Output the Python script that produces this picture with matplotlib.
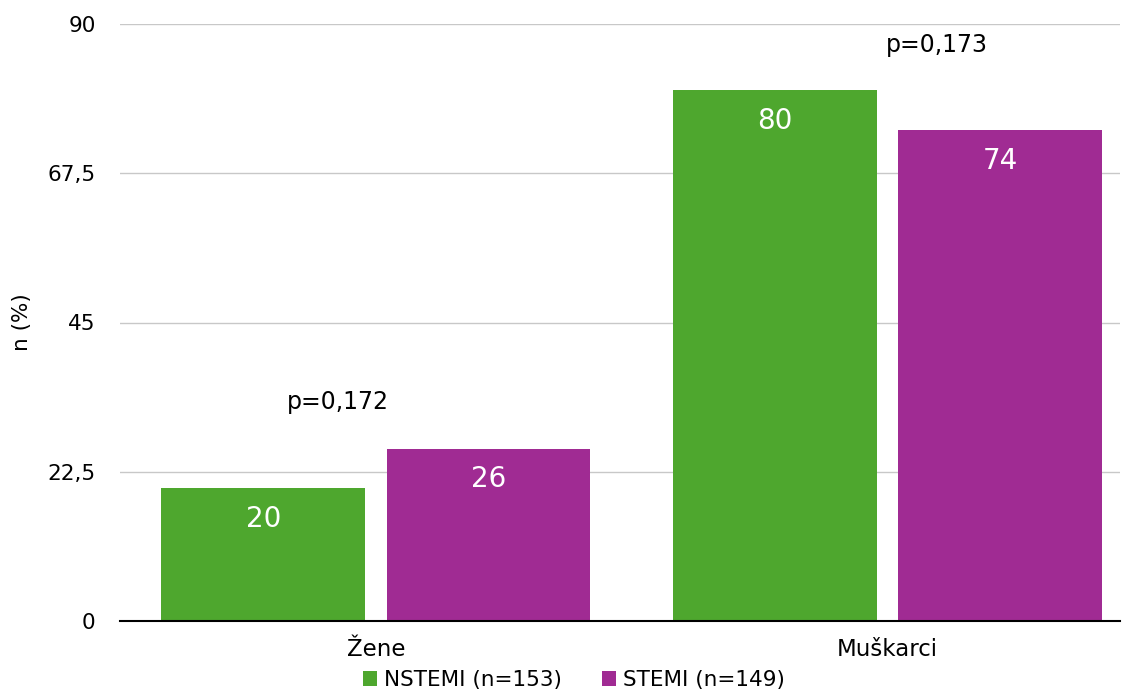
import matplotlib.pyplot as plt
import numpy as np

plt.rcParams['font.family'] = ['DejaVu Sans']

categories = ["Žene", "Muškarci"]
nstemi = [20, 80]
stemi = [26, 74]
series_names = ["NSTEMI (n=153)", "STEMI (n=149)"]
p_values = ["p=0,172", "p=0,173"]
yticks = [0, 22.5, 45, 67.5, 90]
ytick_labels = ["0", "22,5", "45", "67,5", "90"]

green = "#4EA72E"
purple = "#A02B93"

fig = plt.figure(figsize=(11.31, 6.92), dpi=100)
ax = fig.add_axes([120 / 1131, 1 - 621 / 692, 1000 / 1131, 597 / 692])

x = np.arange(len(categories))
w = 0.398
off = 0.22
b1 = ax.bar(x - off, nstemi, w, color=green, label=series_names[0], zorder=3)
b2 = ax.bar(x + off, stemi, w, color=purple, label=series_names[1], zorder=3)

for bars, vals in ((b1, nstemi), (b2, stemi)):
    for r, v in zip(bars, vals):
        ax.text(r.get_x() + r.get_width() / 2, v - 4.6, str(v), ha='center', va='center',
                color='white', fontsize=20, zorder=4)

# p-vrijednosti iznad grupa
ax.text(-0.075, 33, p_values[0], ha='center', va='center', fontsize=17)
ax.text(1.097, 86.8, p_values[1], ha='center', va='center', fontsize=17)

ax.set_xlim(-0.5, 1.454)
ax.set_ylim(0, 90)
ax.set_yticks(yticks)
ax.set_yticklabels(ytick_labels)
ax.set_xticks(x)
ax.set_xticklabels(categories)
ax.tick_params(axis='both', length=0, labelsize=15.5)
ax.tick_params(axis='x', labelsize=16.5)
ax.tick_params(axis='y', pad=17.5)
ax.tick_params(axis='x', pad=12)
ax.yaxis.grid(True, color='#c8c8c8', linewidth=1, zorder=0)
for s in ('top', 'right', 'left'):
    ax.spines[s].set_visible(False)
ax.spines['bottom'].set_color('black')
ax.spines['bottom'].set_linewidth(1.5)
ax.spines['bottom'].set_zorder(5)
ax.set_ylabel("n (%)", fontsize=15.5, labelpad=11)

fig.legend(handles=[b1, b2], loc='center', bbox_to_anchor=(574 / 1131, 1 - 680 / 692), ncol=2,
           frameon=False, fontsize=15.5, handlelength=0.65, handleheight=0.65,
           handletextpad=0.3, columnspacing=1.9, borderpad=0)

fig.savefig("out.png", dpi=100)
